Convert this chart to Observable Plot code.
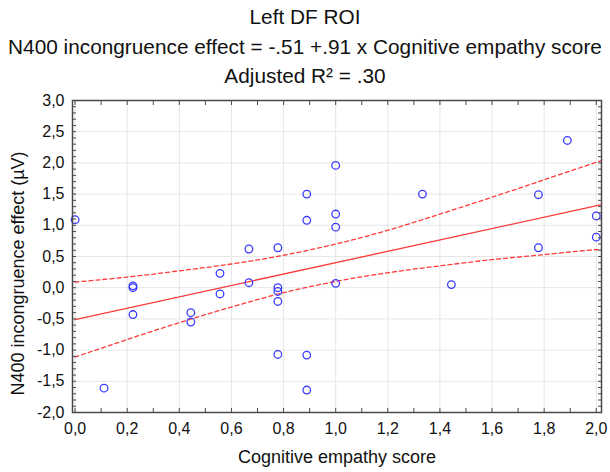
<!DOCTYPE html>
<html><head><meta charset="utf-8">
<script src="https://cdn.jsdelivr.net/npm/d3@7"></script>
<script src="https://cdn.jsdelivr.net/npm/@observablehq/plot@0.6"></script>
<style>
body{margin:0;background:#fff;font-family:"Liberation Sans",Arial,sans-serif;}
#title{width:610px;height:90px;padding-top:2px;box-sizing:border-box;text-align:center;font-size:20.8px;line-height:29.5px;color:#111;white-space:nowrap;}
</style></head><body>
<div id="title"><div>Left DF ROI</div><div>N400 incongruence effect = -.51 +.91 x Cognitive empathy score</div><div>Adjusted R² = .30</div></div>
<div id="chart"></div>
<script>
// Observed points: Cognitive empathy score (x) vs N400 incongruence effect (y)
const scoreX = [0, 0.111, 0.222, 0.222, 0.222, 0.444, 0.444, 0.556, 0.556, 0.667, 0.667,
  0.778, 0.778, 0.778, 0.778, 0.778, 0.889, 0.889, 0.889, 0.889, 1.0, 1.0, 1.0, 1.0,
  1.333, 1.444, 1.778, 1.778, 1.889, 2.0, 2.0];
const effectY = [1.09, -1.61, 0.03, 0.00, -0.43, -0.40, -0.55, 0.23, -0.10, 0.62, 0.08,
  0.64, 0.00, -0.06, -0.22, -1.07, 1.50, 1.08, -1.08, -1.64, 1.96, 1.18, 0.97, 0.07,
  1.50, 0.05, 1.49, 0.64, 2.36, 1.15, 0.81];

// Regression line
const fitX = [0, 2.02];
const fitY = [-0.51, 1.33];

// 95% confidence band
const bandX = [0, 0.2, 0.4, 0.6, 0.8, 1.0, 1.2, 1.4, 1.6, 1.8, 2.0, 2.02];
const bandUpper = [0.09, 0.17, 0.27, 0.38, 0.52, 0.70, 0.92, 1.18, 1.45, 1.73, 2.01, 2.04];
const bandLower = [-1.11, -0.83, -0.56, -0.31, -0.08, 0.10, 0.24, 0.35, 0.45, 0.53, 0.61, 0.61];

// Ticks
const xTicks = [0, 0.2, 0.4, 0.6, 0.8, 1.0, 1.2, 1.4, 1.6, 1.8, 2.0];
const yTicks = [-2, -1.5, -1, -0.5, 0, 0.5, 1, 1.5, 2, 2.5, 3];
const xMinor = d3.range(0, 21).map(i => i / 10);
const yMinor = d3.range(-20, 31).map(i => i / 10);

const xLabel = "Cognitive empathy score";
const yLabel = "N400 incongruence effect (µV)";

const points = scoreX.map((x, i) => ({x, y: effectY[i]}));
const fit = fitX.map((x, i) => ({x, y: fitY[i]}));
const band = bandX.map((x, i) => ({x, upper: bandUpper[i], lower: bandLower[i]}));

const fmt = d => d.toFixed(1).replace(".", ",");
const red = "#ff3a3a";
const blue = "#3a3aff";
const axisColor = "#4a4a4a";

const chart = Plot.plot({
  width: 610, height: 382,
  marginTop: 10, marginBottom: 60, marginLeft: 72, marginRight: 9,
  x: {domain: [-0.01, 2.02]},
  y: {domain: [-2, 3]},
  style: {fontFamily: "'Liberation Sans', Arial, sans-serif", fontSize: "16px", color: "#111", background: "white"},
  marks: [
    Plot.gridX(xTicks, {stroke: "#e6e6e6", strokeOpacity: 1}),
    Plot.gridY(yTicks, {stroke: "#e6e6e6", strokeOpacity: 1}),
    Plot.line(band, {x: "x", y: "upper", stroke: red, strokeWidth: 1.3, strokeDasharray: "4,3", curve: "catmull-rom"}),
    Plot.line(band, {x: "x", y: "lower", stroke: red, strokeWidth: 1.3, strokeDasharray: "4,3", curve: "catmull-rom"}),
    Plot.line(fit, {x: "x", y: "y", stroke: red, strokeWidth: 1.3}),
    Plot.dot(points, {x: "x", y: "y", r: 3.8, stroke: blue, strokeWidth: 1.3, fill: "none"}),
    Plot.frame({stroke: axisColor, strokeWidth: 1.5}),
    Plot.axisX({anchor: "bottom", ticks: xTicks, tickSize: 0, tickPadding: 10, tickFormat: fmt, label: null, fontSize: 16}),
    Plot.axisX({anchor: "bottom", ticks: xMinor, tickSize: -4, text: null, label: null, stroke: axisColor}),
    Plot.axisX({anchor: "top", ticks: xMinor, tickSize: -4, text: null, label: null, stroke: axisColor}),
    Plot.axisY({anchor: "left", ticks: yTicks, tickSize: 0, tickPadding: 8, tickFormat: fmt, label: null, fontSize: 16}),
    Plot.axisY({anchor: "left", ticks: yMinor, tickSize: -4, text: null, label: null, stroke: axisColor}),
    Plot.axisY({anchor: "right", ticks: yMinor, tickSize: -4, text: null, label: null, stroke: axisColor}),
    Plot.text([xLabel], {frameAnchor: "bottom", textAnchor: "middle", lineAnchor: "middle", dy: 45, fontSize: 18, fill: "#111"}),
    Plot.text([yLabel], {frameAnchor: "left", textAnchor: "middle", lineAnchor: "middle", rotate: -90, dx: -54, dy: 17, fontSize: 18, fill: "#111"})
  ]
});
document.getElementById("chart").appendChild(chart);
</script>
</body></html>
